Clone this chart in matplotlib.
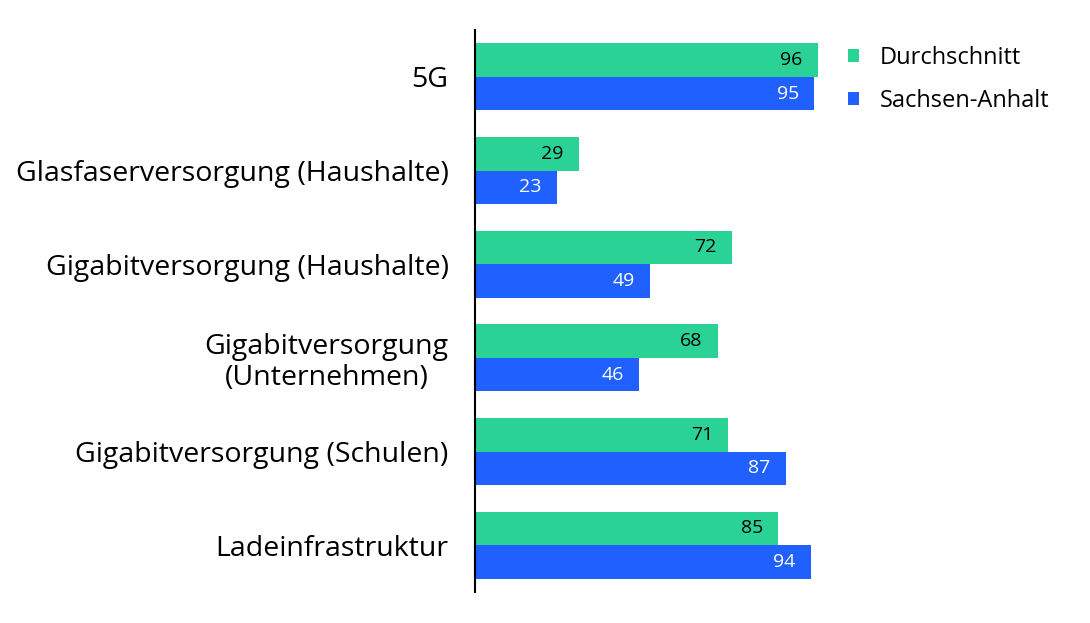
import matplotlib.pyplot as plt
import numpy as np

plt.rcParams['font.family'] = ['Open Sans', 'DejaVu Sans']

kategorien = ["5G", "Glasfaserversorgung (Haushalte)", "Gigabitversorgung (Haushalte)",
              "Gigabitversorgung\n(Unternehmen)", "Gigabitversorgung (Schulen)", "Ladeinfrastruktur"]
durchschnitt = [96, 29, 72, 68, 71, 85]
sachsen_anhalt = [95, 23, 49, 46, 87, 94]

gruen = "#2bd296"
blau = "#1f60ff"

fig = plt.figure(figsize=(10.9, 6.23), dpi=100)
ax = fig.add_axes([475 / 1090, 1 - 592 / 623, 357 / 1090, 562 / 623])

y = np.arange(len(kategorien))
h = 0.358
ax.barh(y - h / 2, durchschnitt, height=h, color=gruen, label="Durchschnitt")
ax.barh(y + h / 2, sachsen_anhalt, height=h, color=blau, label="Sachsen-Anhalt")

for i, (d, s) in enumerate(zip(durchschnitt, sachsen_anhalt)):
    ax.text(d - 4.3, i - h / 2, str(d), ha="right", va="center", fontsize=14, color="black")
    ax.text(s - 4.3, i + h / 2, str(s), ha="right", va="center", fontsize=14, color="white")

ax.set_xlim(0, 100)
ax.set_ylim(5.5, -0.5)
ax.set_yticks(y)
ax.set_yticklabels(kategorien, fontsize=20.5, linespacing=1.15, multialignment="center")
ax.tick_params(axis="y", length=0, pad=19)
ax.set_xticks([])
for s in ["top", "right", "bottom"]:
    ax.spines[s].set_visible(False)
ax.spines["left"].set_linewidth(1.5)

ax.legend(loc="upper left", bbox_to_anchor=(1.0 - 5 / 357, 1.0 + 5 / 562), frameon=False, fontsize=17,
          handlelength=0.45, handleheight=0.45, handletextpad=0.9, labelspacing=0.78,
          borderaxespad=0.5)

fig.savefig("out.png", dpi=100)
